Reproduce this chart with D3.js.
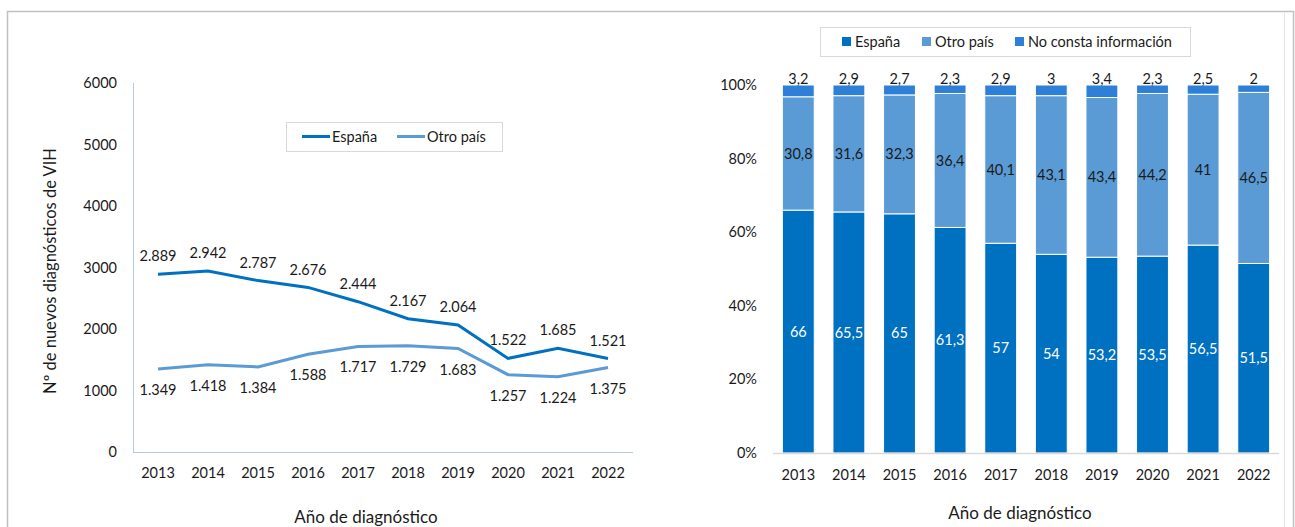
<!DOCTYPE html>
<html>
<head>
<meta charset="utf-8">
<script src="https://cdn.jsdelivr.net/npm/d3@7"></script>
<style>
  body { margin: 0; background: #fff; }
  svg text { font-family: Lato, "Open Sans", sans-serif; fill: #1a1a1a; }
</style>
</head>
<body>
<div id="chart"></div>
<script>
const years = ['2013', '2014', '2015', '2016', '2017', '2018', '2019', '2020', '2021', '2022']

// left chart: absolute counts
const espanaCount = [2889, 2942, 2787, 2676, 2444, 2167, 2064, 1522, 1685, 1521]
const otroCount = [1349, 1418, 1384, 1588, 1717, 1729, 1683, 1257, 1224, 1375]
const countTicks = [0, 1000, 2000, 3000, 4000, 5000, 6000]

// right chart: percentages
const espanaPct = [66, 65.5, 65, 61.3, 57, 54, 53.2, 53.5, 56.5, 51.5]
const otroPct = [30.8, 31.6, 32.3, 36.4, 40.1, 43.1, 43.4, 44.2, 41, 46.5]
const noConstaPct = [3.2, 2.9, 2.7, 2.3, 2.9, 3, 3.4, 2.3, 2.5, 2]
const pctTicks = [0, 20, 40, 60, 80, 100]

const cEspana = '#0070c0'
const cOtro = '#5b9bd5'
const cNoConsta = '#2e7fd8'

const width = 1295
const height = 527
const fmtThousands = v => d3.format(',')(v).replace(/,/g, '.')
const fmtComma = v => String(v).replace('.', ',')

const svg = d3.select('#chart').append('svg')
  .attr('width', width)
  .attr('height', height)

// outer frame
svg.append('rect')
  .attr('x', 7.5).attr('y', 11.5)
  .attr('width', 1286).attr('height', 530)
  .attr('fill', 'none')
  .attr('stroke', '#c0c0c0')
  .attr('stroke-width', 1.5)
svg.append('line')
  .attr('x1', 1284.5).attr('x2', 1284.5)
  .attr('y1', 12).attr('y2', 527)
  .attr('stroke', '#e6e6e6')

// ---------- left chart: lines ----------
const x1 = d3.scaleBand().domain(years).range([133, 633])
const y1 = d3.scaleLinear().domain([0, 6000]).range([452, 83])
const left = svg.append('g')

left.append('g')
  .selectAll('text')
  .data(countTicks)
  .join('text')
  .attr('x', 117)
  .attr('y', d => y1(d))
  .attr('dy', '0.35em')
  .attr('text-anchor', 'end')
  .attr('font-size', 14.5)
  .text(d => d)

left.append('line')
  .attr('x1', 133.5).attr('x2', 133.5)
  .attr('y1', y1(6000)).attr('y2', y1(0))
  .attr('stroke', '#b4c7e7')
left.append('line')
  .attr('x1', 133).attr('x2', 633)
  .attr('y1', y1(0) + 0.5).attr('y2', y1(0) + 0.5)
  .attr('stroke', '#b4c7e7')

left.append('g')
  .selectAll('text')
  .data(years)
  .join('text')
  .attr('x', d => x1(d) + x1.bandwidth() / 2)
  .attr('y', 473)
  .attr('dy', '0.35em')
  .attr('text-anchor', 'middle')
  .attr('font-size', 14.5)
  .text(d => d)

left.append('text')
  .attr('x', 366).attr('y', 517)
  .attr('dy', '0.35em')
  .attr('text-anchor', 'middle')
  .attr('font-size', 17)
  .text('Año de diagnóstico')

left.append('text')
  .attr('transform', 'translate(50,271) rotate(-90)')
  .attr('dy', '0.35em')
  .attr('text-anchor', 'middle')
  .attr('font-size', 16.5)
  .text('Nº de nuevos diagnósticos de VIH')

const line = d3.line()
  .x((d, i) => x1(years[i]) + x1.bandwidth() / 2)
  .y(d => y1(d))

left.append('path')
  .attr('d', line(otroCount))
  .attr('fill', 'none')
  .attr('stroke', cOtro)
  .attr('stroke-width', 3)
left.append('path')
  .attr('d', line(espanaCount))
  .attr('fill', 'none')
  .attr('stroke', cEspana)
  .attr('stroke-width', 3)

left.append('g')
  .selectAll('text')
  .data(espanaCount)
  .join('text')
  .attr('x', (d, i) => x1(years[i]) + x1.bandwidth() / 2)
  .attr('y', d => y1(d) - 18)
  .attr('dy', '0.35em')
  .attr('text-anchor', 'middle')
  .attr('font-size', 14.5)
  .text(fmtThousands)

left.append('g')
  .selectAll('text')
  .data(otroCount)
  .join('text')
  .attr('x', (d, i) => x1(years[i]) + x1.bandwidth() / 2)
  .attr('y', d => y1(d) + 21)
  .attr('dy', '0.35em')
  .attr('text-anchor', 'middle')
  .attr('font-size', 14.5)
  .text(fmtThousands)

// legend
const lg1 = left.append('g')
lg1.append('rect')
  .attr('x', 286.5).attr('y', 122.5)
  .attr('width', 216).attr('height', 29)
  .attr('fill', '#fff')
  .attr('stroke', '#d9d9d9')
const lineLegend = [
  { name: 'España', color: cEspana, x: 302 },
  { name: 'Otro país', color: cOtro, x: 397 },
]
lineLegend.forEach(item => {
  lg1.append('line')
    .attr('x1', item.x).attr('x2', item.x + 28)
    .attr('y1', 136.5).attr('y2', 136.5)
    .attr('stroke', item.color)
    .attr('stroke-width', 3)
  lg1.append('text')
    .attr('x', item.x + 30).attr('y', 136.5)
    .attr('dy', '0.35em')
    .attr('font-size', 14.5)
    .text(item.name)
})

// ---------- right chart: stacked bars ----------
const x2 = d3.scaleBand().domain(years).range([773, 1279]).paddingInner(0.37).paddingOuter(0.185)
const y2 = d3.scaleLinear().domain([0, 100]).range([453, 85])
const right = svg.append('g')

right.append('g')
  .selectAll('text')
  .data(pctTicks)
  .join('text')
  .attr('x', 757)
  .attr('y', d => y2(d))
  .attr('dy', '0.35em')
  .attr('text-anchor', 'end')
  .attr('font-size', 14.5)
  .text(d => d + '%')

const rows = years.map((yr, i) => ({
  year: yr,
  espana: espanaPct[i],
  otro: otroPct[i],
  noConsta: noConstaPct[i],
}))
const keys = ['espana', 'otro', 'noConsta']
const colors = { espana: cEspana, otro: cOtro, noConsta: cNoConsta }
const stacked = d3.stack().keys(keys)(rows)

stacked.forEach(layer => {
  right.append('g')
    .selectAll('rect')
    .data(layer)
    .join('rect')
    .attr('x', d => x2(d.data.year))
    .attr('width', x2.bandwidth())
    .attr('y', d => y2(Math.min(d[1], 100)))
    .attr('height', d => y2(d[0]) - y2(Math.min(d[1], 100)))
    .attr('fill', colors[layer.key])
    .attr('stroke', '#fff')
    .attr('stroke-width', 1)
})

right.append('line')
  .attr('x1', 773).attr('x2', 1279)
  .attr('y1', 453.5).attr('y2', 453.5)
  .attr('stroke', '#d9d9d9')
  .attr('stroke-width', 1.5)

// labels inside segments
const espLayer = stacked[0]
const otroLayer = stacked[1]
const ncLayer = stacked[2]

right.append('g')
  .selectAll('text')
  .data(espLayer)
  .join('text')
  .attr('x', d => x2(d.data.year) + x2.bandwidth() / 2)
  .attr('y', d => y2((d[0] + d[1]) / 2))
  .attr('dy', '0.35em')
  .attr('text-anchor', 'middle')
  .attr('font-size', 14.5)
  .style('fill', '#fff')
  .text(d => fmtComma(d.data.espana))

right.append('g')
  .selectAll('text')
  .data(otroLayer)
  .join('text')
  .attr('x', d => x2(d.data.year) + x2.bandwidth() / 2)
  .attr('y', d => y2((d[0] + d[1]) / 2))
  .attr('dy', '0.35em')
  .attr('text-anchor', 'middle')
  .attr('font-size', 14.5)
  .text(d => fmtComma(d.data.otro))

right.append('g')
  .selectAll('text')
  .data(ncLayer)
  .join('text')
  .attr('x', d => x2(d.data.year) + x2.bandwidth() / 2)
  .attr('y', d => y2(100) - 1)
  .attr('text-anchor', 'middle')
  .attr('font-size', 14.5)
  .text(d => fmtComma(d.data.noConsta))

right.append('g')
  .selectAll('text')
  .data(years)
  .join('text')
  .attr('x', d => x2(d) + x2.bandwidth() / 2)
  .attr('y', 475)
  .attr('dy', '0.35em')
  .attr('text-anchor', 'middle')
  .attr('font-size', 14.5)
  .text(d => d)

right.append('text')
  .attr('x', 1020).attr('y', 513)
  .attr('dy', '0.35em')
  .attr('text-anchor', 'middle')
  .attr('font-size', 17)
  .text('Año de diagnóstico')

// legend
const lg2 = right.append('g')
lg2.append('rect')
  .attr('x', 820.5).attr('y', 27.5)
  .attr('width', 370).attr('height', 29)
  .attr('fill', '#fff')
  .attr('stroke', '#d9d9d9')
const barLegend = [
  { name: 'España', color: cEspana, x: 842 },
  { name: 'Otro país', color: cOtro, x: 922 },
  { name: 'No consta información', color: cNoConsta, x: 1015 },
]
barLegend.forEach(item => {
  lg2.append('rect')
    .attr('x', item.x).attr('y', 37)
    .attr('width', 9).attr('height', 9)
    .attr('fill', item.color)
  lg2.append('text')
    .attr('x', item.x + 13).attr('y', 41.5)
    .attr('dy', '0.35em')
    .attr('font-size', 14.5)
    .text(item.name)
})
</script>
</body>
</html>
